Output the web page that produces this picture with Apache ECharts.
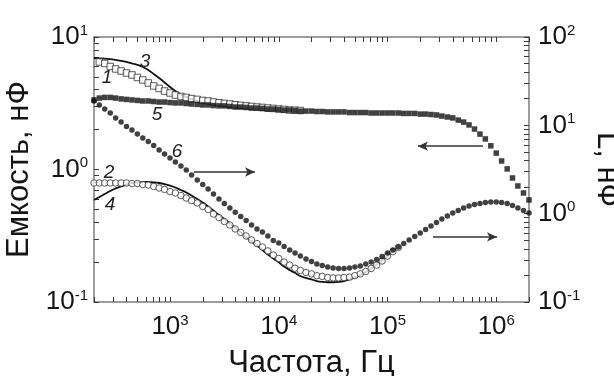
<!DOCTYPE html>
<html><head><meta charset="utf-8">
<script src="https://cdn.jsdelivr.net/npm/echarts@6/dist/echarts.min.js"></script>
<style>html,body{margin:0;padding:0;background:#fff}#c{width:614px;height:376px}</style>
</head><body><div id="c"></div>
<script>
// ---- data (frequency in Hz; capacitance in nF; L in nF) ----
const freq = [200,224,251,282,316,355,398,447,501,562,631,708,794,891,
  1000,1120,1260,1410,1580,1780,2000,2240,2510,2820,3160,3550,3980,4470,5010,5620,6310,7080,7940,8910,
  10000,11200,12600,14100,15800,17800,20000,22400,25100,28200,31600,35500,39800,44700,50100,56200,63100,70800,79400,89100,
  100000,112000,126000,141000,158000,178000,200000,224000,251000,282000,316000,355000,398000,447000,501000,562000,631000,708000,794000,891000,
  1000000,1120000,1260000,1410000,1580000,1780000,2000000];

// curve 3: solid line (left axis)
const curve3 = [6.94,6.90,6.87,6.80,6.71,6.61,6.48,6.31,6.15,5.94,5.63,5.26,4.90,4.54,4.19,3.91,3.68,3.53,3.38,3.29,
  3.20,3.15,3.10,3.04,3.02,2.99,2.96,2.94,2.91,2.89,2.87,2.85,2.84,2.81,2.80,2.79,2.78,2.76,2.75];
// curve 1: open squares (left axis)
const curve1 = [null,6.48,6.31,5.99,5.74,5.54,5.35,5.17,4.95,4.74,4.50,4.27,4.09,3.91,3.78,3.65,3.56,3.50,3.43,3.38,3.32,
  3.29,3.23,3.19,3.15,3.12,3.08,3.05,3.02,2.99,2.96,2.94,2.91,2.89,2.86,2.84,2.81,2.80,2.79];
// curve 5: solid squares (left axis)
const curve5 = [3.35,3.46,3.50,3.50,3.46,3.41,3.38,3.35,3.32,3.29,3.29,3.26,3.23,3.23,3.20,3.18,3.18,3.15,3.12,3.10,
  3.07,3.07,3.04,3.02,3.02,2.99,2.96,2.96,2.94,2.91,2.91,2.89,2.86,2.86,2.84,2.81,2.81,2.79,2.76,2.76,
  2.76,2.74,2.74,2.72,2.72,2.72,2.72,2.69,2.69,2.69,2.69,2.67,2.67,2.67,2.67,2.67,2.67,2.65,2.65,2.65,
  2.62,2.62,2.60,2.58,2.53,2.49,2.45,2.36,2.28,2.17,2.02,1.85,1.70,1.51,1.33,1.16,1.01,0.863,0.751,0.665,0.589];
// curve 6: solid circles (right axis, L)
const curve6 = [18.9,17.0,15.3,13.8,12.1,10.9,9.70,8.86,7.98,7.19,6.56,5.91,5.26,4.74,4.27,3.85,3.47,3.12,2.74,2.41,
  2.14,1.90,1.67,1.47,1.30,1.16,1.04,0.929,0.837,0.744,0.671,0.620,0.559,0.497,0.466,0.425,0.388,0.359,0.332,0.307,
  0.287,0.269,0.259,0.249,0.243,0.239,0.239,0.243,0.249,0.256,0.269,0.284,0.303,0.327,0.359,0.388,0.419,0.459,0.503,0.551,
  0.604,0.662,0.725,0.794,0.870,0.941,1.018,1.086,1.159,1.221,1.270,1.303,1.338,1.356,1.356,1.338,1.303,1.237,1.159,1.086,1.018];
// curve 2: open circles (left axis)
const curve2 = [0.791,0.791,0.791,0.791,0.791,0.791,0.791,0.784,0.784,0.770,0.764,0.744,0.725,0.707,0.682,0.665,0.636,0.609,0.583,0.559,
  0.526,0.499,0.461,0.434,0.405,0.381,0.356,0.335,0.315,0.294,0.276,0.260,0.243,0.226,0.213,0.200,0.190,0.180,0.173,0.167,
  0.163,0.158,0.156,0.153,0.152,0.152,0.153,0.154,0.158,0.163,0.170,0.179,0.190,0.204,0.222,0.240,0.258];
// curve 4: solid line (left axis)
const curve4 = [0.589,0.620,0.653,0.688,0.719,0.744,0.770,0.788,0.798,0.805,0.805,0.800,0.791,0.777,0.757,0.731,0.700,0.671,0.636,0.599,
  0.563,0.526,0.490,0.453,0.423,0.391,0.362,0.335,0.309,0.286,0.267,0.247,0.228,0.213,0.199,0.185,0.174,0.166,0.157,0.152,
  0.148,0.144,0.142,0.141,0.141,0.142,0.144,0.148,0.153,0.160,0.168,0.179,0.192,0.206,0.222,0.240,0.258];

// axis ranges and tick-label exponents
const xRange = [200, 2000000];
const yLeftRange = [0.1, 10];
const yRightRange = [0.1, 100];
const xLabelExp = [3, 4, 5, 6];
const yLeftLabelExp = [-1, 0, 1];
const yRightLabelExp = [-1, 0, 1, 2];

// curve number labels (anchored in data coordinates, left axis)
const curveLabelText = ['1', '2', '3', '4', '5', '6'];
const curveLabelFreq = [264, 275, 589, 281, 759, 1160];
const curveLabelCap = [4.9, 0.94, 6.48, 0.54, 2.58, 1.36];
// arrows (left axis coordinates)
const arrowFromFreq = [1660, 755000, 262000];
const arrowToFreq = [6040, 190500, 1016000];
const arrowCap = [0.957, 1.50, 0.31];

// ---- chart ----
const L = Math.log10;
const FONT = '"Liberation Sans", Arial, Helvetica, sans-serif';
const AX = '#7d7d7d';
const TXT = '#151515';
const TICK = 5;

function pts(arr) {
  const out = [];
  arr.forEach((v, i) => { if (v != null) out.push([L(freq[i]), L(v)]); });
  return out;
}
function logTicks(lo, hi) {
  const a = L(lo), b = L(hi), t = [];
  for (let e = Math.floor(a); e <= Math.ceil(b); e++)
    for (let k = 1; k <= 9; k++) {
      const v = e + L(k);
      if (v >= a - 1e-9 && v <= b + 1e-9) t.push(v);
    }
  return t;
}
const rich = {
  b: { fontSize: 26, fontFamily: FONT, color: TXT, lineHeight: 28 },
  s: { fontSize: 15, fontFamily: FONT, color: TXT, verticalAlign: 'top', lineHeight: 15, padding: [0, 0, 12, 0] }
};
const fmt = v => '{b|10}{s|' + Math.round(v) + '}';

// main axes: line + labels (+ name)
function mainAxis(pos, range, exps, showLabel, margin) {
  return {
    type: 'value', position: pos, min: L(range[0]), max: L(range[1]),
    axisLine: { show: true, onZero: false, lineStyle: { color: AX, width: 1.5 } },
    axisTick: { show: false },
    axisLabel: { show: showLabel, margin: margin, formatter: fmt, rich: rich, customValues: exps },
    splitLine: { show: false }
  };
}
// tick-only axes, shifted into the plot so the ticks point inward
function tickAxis(pos, range) {
  return {
    type: 'value', position: pos, min: L(range[0]), max: L(range[1]), offset: -TICK,
    axisLine: { show: false, onZero: false },
    axisTick: { show: true, length: TICK, lineStyle: { color: '#3a3a3a', width: 1 }, customValues: logTicks(range[0], range[1]) },
    axisLabel: { show: false },
    splitLine: { show: false }
  };
}

const xBottom = mainAxis('bottom', xRange, xLabelExp, true, 11);
Object.assign(xBottom, { name: 'Частота, Гц', nameLocation: 'middle', nameGap: 46,
  nameTextStyle: { fontSize: 31, fontFamily: FONT, color: TXT } });
const xTop = mainAxis('top', xRange, xLabelExp, false, 8);

const yLeft = mainAxis('left', yLeftRange, yLeftLabelExp, true, 6);
Object.assign(yLeft, { name: 'Емкость, нФ', nameLocation: 'middle', nameGap: 55, nameRotate: 90,
  nameTextStyle: { fontSize: 31, fontFamily: FONT, color: TXT } });
const yRight = mainAxis('right', yRightRange, yRightLabelExp, true, 9);
Object.assign(yRight, { name: 'L, нФ', nameLocation: 'middle', nameGap: 46, nameRotate: -90,
  nameTextStyle: { fontSize: 31, fontFamily: FONT, color: TXT } });

const arrowData = arrowFromFreq.map((f, i) => [
  { coord: [L(f), L(arrowCap[i])] },
  { coord: [L(arrowToFreq[i]), L(arrowCap[i])] }
]);

const chart = echarts.init(document.getElementById('c'), null, { renderer: 'canvas' });
chart.setOption({
  animation: false,
  backgroundColor: '#fff',
  textStyle: { fontFamily: FONT },
  grid: { left: 94, right: 85, top: 37, bottom: 74, outerBoundsMode: 'none' },
  xAxis: [xBottom, xTop, tickAxis('bottom', xRange), tickAxis('top', xRange)],
  yAxis: [yLeft, yRight, tickAxis('left', yLeftRange), tickAxis('right', yRightRange)],
  series: [
    { name: '3', type: 'line', xAxisIndex: 0, yAxisIndex: 0, data: pts(curve3), showSymbol: false, smooth: 0.3,
      lineStyle: { color: '#111', width: 1.8 }, z: 2 },
    { name: '4', type: 'line', xAxisIndex: 0, yAxisIndex: 0, data: pts(curve4), showSymbol: false, smooth: 0.3,
      lineStyle: { color: '#111', width: 1.8 }, z: 2 },
    { name: '1', type: 'scatter', xAxisIndex: 0, yAxisIndex: 0, data: pts(curve1), symbol: 'rect', symbolSize: 6.5,
      itemStyle: { color: '#fff', borderColor: '#333', borderWidth: 1 }, z: 3 },
    { name: '2', type: 'scatter', xAxisIndex: 0, yAxisIndex: 0, data: pts(curve2), symbol: 'circle', symbolSize: 6.5,
      itemStyle: { color: '#fff', borderColor: '#333', borderWidth: 1 }, z: 3 },
    { name: '5', type: 'scatter', xAxisIndex: 0, yAxisIndex: 0, data: pts(curve5), symbol: 'rect', symbolSize: 5.5,
      itemStyle: { color: '#111' }, z: 4,
      markLine: { silent: true, symbol: ['none', 'arrow'], symbolSize: [7, 10], label: { show: false },
        lineStyle: { color: '#333', width: 1.5, type: 'solid' }, data: arrowData } },
    { name: '6', type: 'scatter', xAxisIndex: 0, yAxisIndex: 1, data: pts(curve6), symbol: 'circle', symbolSize: 5.5,
      itemStyle: { color: '#111' }, z: 4 }
  ]
});

const labels = curveLabelText.map((t, i) => {
  const p = chart.convertToPixel({ xAxisIndex: 0, yAxisIndex: 0 }, [L(curveLabelFreq[i]), L(curveLabelCap[i])]);
  return { type: 'text', x: p[0], y: p[1], z: 10,
    style: { text: t, fontSize: 19, fontStyle: 'italic', fontFamily: FONT, fill: '#222', align: 'center', verticalAlign: 'middle' } };
});
chart.setOption({ graphic: labels });
</script>
</body></html>
